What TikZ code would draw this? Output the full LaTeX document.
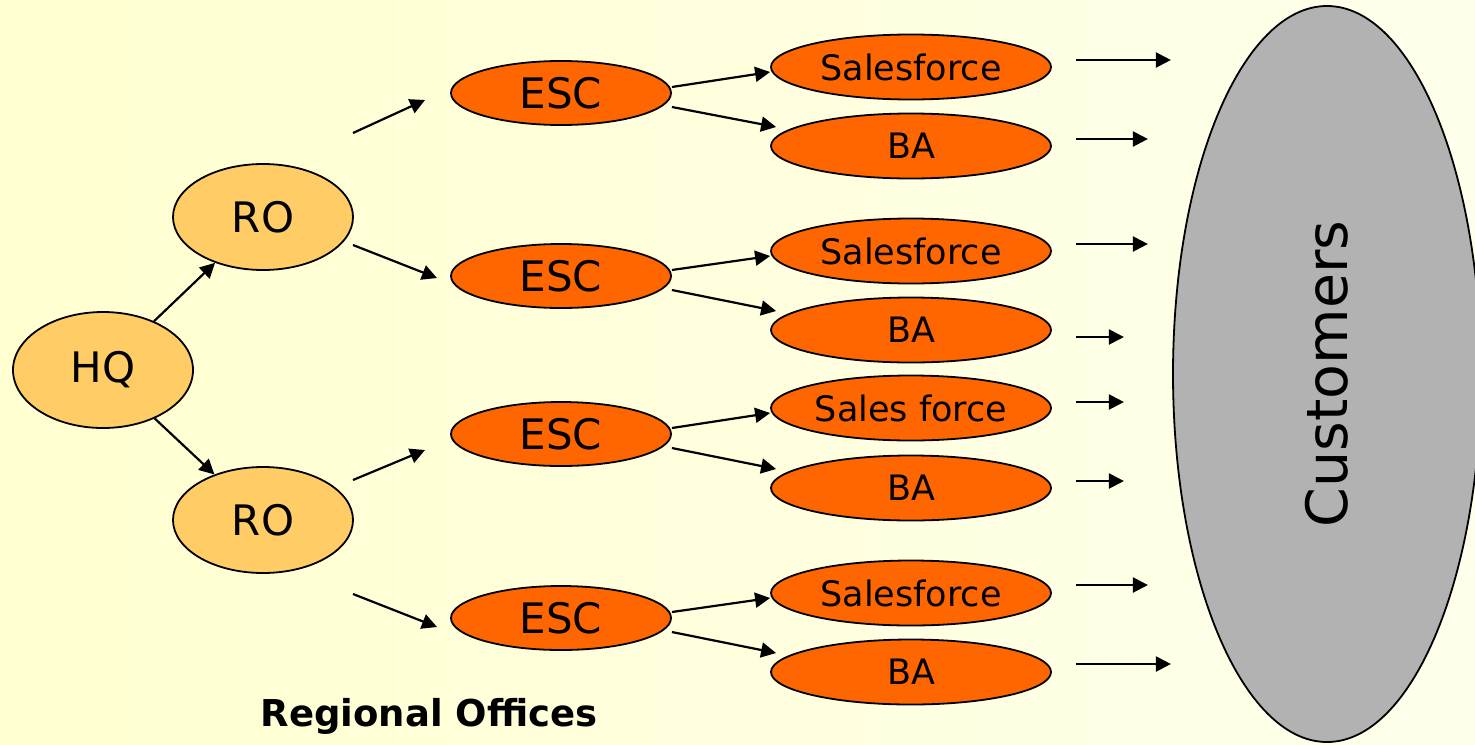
\documentclass[tikz,border=0pt]{standalone}
\usepackage{fontspec}
\setmainfont{DejaVu Sans}
\usepackage{xcolor}
\usetikzlibrary{shapes.geometric, positioning, arrows.meta}

\definecolor{bgleft}{HTML}{FFFFD0}
\definecolor{bgright}{HTML}{FFFFEC}
\definecolor{lightorange}{HTML}{FFCC66}
\definecolor{darkorange}{HTML}{FF6600}
\definecolor{custgray}{HTML}{B2B2B2}

\tikzset{
  office/.style={ellipse, draw, line width=0.9pt, fill=lightorange, inner sep=0pt, font=\fontsize{21}{24}\selectfont},
  escbox/.style={ellipse, draw, line width=0.9pt, fill=darkorange, inner sep=0pt, minimum width=110pt, minimum height=32pt, font=\fontsize{21}{24}\selectfont},
  unitbox/.style={ellipse, draw, line width=0.9pt, fill=darkorange, inner sep=0pt, minimum width=140pt, minimum height=32.5pt, font=\fontsize{17.5}{20}\selectfont},
  arr/.style={-{Triangle[length=7.5pt, width=7.5pt]}, line width=1.1pt}
}

\begin{document}
\begin{tikzpicture}[x=0.5pt, y=-0.5pt]
\useasboundingbox (0, 0) rectangle (1475, 744);
\shade [left color=bgleft, right color=bgright] (0, 0) rectangle (1475, 744);

\node [office, minimum width=90pt, minimum height=58pt] (hq) at (103, 370) {HQ};
\node [office, minimum width=90pt, minimum height=53pt] (ro1) at (263, 217) {RO};
\node [office, minimum width=90pt, minimum height=53pt] (ro2) at (263, 520) {RO};

\foreach \y [count=\i] in {93, 276, 434, 618} \node [escbox] (esc\i) at (561, \y) {ESC};
\foreach \y/\t [count=\i] in {67/Salesforce, 146/BA, 251/Salesforce, 330/BA, 408/Sales force, 488/BA, 593/Salesforce, 672/BA}
  \node [unitbox] (unit\i) at (911, \y) {\t};

\node [ellipse, draw, line width=0.9pt, fill=custgray, minimum width=154pt, minimum height=368pt] (cust) at (1327, 374) {};
\node [rotate=90, font=\fontsize{28.5}{32}\selectfont] (custtext) at (cust.center) {Customers};

\node [font=\bfseries\fontsize{18.5}{22}\selectfont] (regional) at (429, 716) {Regional Offices};

\draw [arr] (hq) -- (ro1);
\draw [arr] (hq) -- (ro2);

\coordinate (ro1up) at (353, 133);
\coordinate (ro1dn) at (353, 245);
\coordinate (ro2up) at (353, 480);
\coordinate (ro2dn) at (353, 594);
\draw [arr] (ro1up) -- (425, 100);
\draw [arr] (ro1dn) -- (437, 278);
\draw [arr] (ro2up) -- (425, 450);
\draw [arr] (ro2dn) -- (437, 627);

\foreach \i/\a/\b in {1/1/2, 2/3/4, 3/5/6, 4/7/8} {
  \draw [arr] ([yshift=3pt]esc\i.east) -- ([yshift=-2.5pt]unit\a.west);
  \draw [arr] ([yshift=-7pt]esc\i.east) -- ([xshift=3pt, yshift=9.5pt]unit\b.west);
}

\foreach \i/\len/\dy in {1/47.5/3.5, 2/36/3.5, 3/36/3.5, 4/24/-3.5, 5/24/3, 6/24/3.5, 7/36/4, 8/47.5/4}
  \draw [arr] ([xshift=12pt, yshift=\dy pt]unit\i.east) -- ++(\len pt, 0);
\end{tikzpicture}
\end{document}
